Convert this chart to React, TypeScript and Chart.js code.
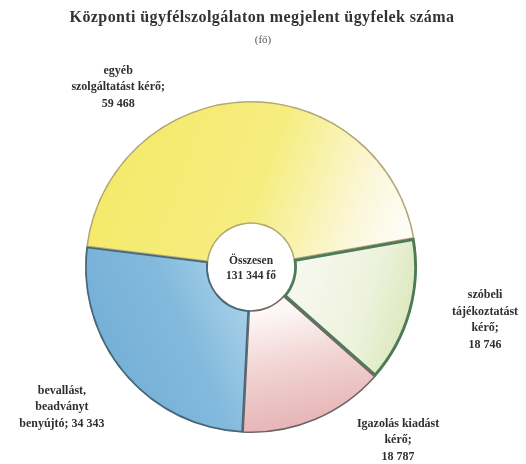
import React, { useEffect, useRef } from "react";
import { Chart, registerables } from "chart.js";

Chart.register(...registerables);

const TITLE = "Központi ügyfélszolgálaton megjelent ügyfelek száma";
const SUBTITLE = "(fő)";
const categories: string[][] = [
  ["egyéb", "szolgáltatást kérő;"],
  ["szóbeli", "tájékoztatást", "kérő;"],
  ["Igazolás kiadást", "kérő;"],
  ["bevallást,", "beadványt", "benyújtó;"],
];
const values: number[] = [59468, 18746, 18787, 34343];
const valueLabels: string[] = ["59 468", "18 746", "18 787", "34 343"];
const centerLines: string[] = ["Összesen", "131 344 fő"];

const FONT = "'Liberation Serif', 'DejaVu Serif', serif";

// gradient stops for each slice (light-to-dark scanned look)
const sliceStops: [number, string][][] = [
  [[0, "#f4ea6c"], [0.45, "#f6ed80"], [0.78, "#fbf7da"], [1, "#ffffff"]],
  [[0, "#f6f8ee"], [0.6, "#edf2dc"], [1, "#dce8bd"]],
  [[0, "#fdf8f6"], [0.45, "#f1d3d2"], [1, "#e5b0b3"]],
  [[0, "#74aed6"], [0.6, "#82b9dc"], [1, "#a6cfe8"]],
];
const borderColors: string[] = ["#b4a676", "#4d7b57", "#6e6464", "#48687a"];
const borderWidths: number[] = [1.2, 2.5, 1.2, 1.5];

export default function App() {
  const ref = useRef<HTMLCanvasElement>(null);
  useEffect(() => {
    if (!ref.current) return;

    const grad = (ctx: any) => {
      const chart = ctx.chart;
      const a = chart.chartArea;
      if (!a) return "#ccc";
      const c = chart.ctx as CanvasRenderingContext2D;
      const cx = (a.left + a.right) / 2;
      const cy = (a.top + a.bottom) / 2;
      const r = Math.min(a.right - a.left, a.bottom - a.top) / 2;
      const i = ctx.dataIndex;
      let g: CanvasGradient;
      if (i === 0) g = c.createLinearGradient(cx - 0.8 * r, cy - 0.6 * r, cx + 0.95 * r, cy + 0.05 * r);
      else if (i === 1) g = c.createLinearGradient(cx + 0.3 * r, cy, cx + r, cy + 0.2 * r);
      else if (i === 2) g = c.createLinearGradient(cx + 0.2 * r, cy + 0.25 * r, cx + 0.35 * r, cy + r);
      else g = c.createLinearGradient(cx - r, cy + 0.5 * r, cx - 0.1 * r, cy + 0.1 * r);
      sliceStops[i].forEach(([p, col]) => g.addColorStop(p, col));
      return g;
    };

    const labelOffsets: [number, number][] = [
      [-0.8, -1.084],
      [1.41, 0.32],
      [0.886, 1.042],
      [-1.139, 0.843],
    ];

    const titlePlugin = {
      id: "scanTitle",
      afterDraw(chart: any) {
        const c = chart.ctx as any;
        c.save();
        c.textAlign = "center";
        c.textBaseline = "middle";
        c.fillStyle = "#333";
        c.font = `bold 16px ${FONT}`;
        if ("letterSpacing" in c) c.letterSpacing = "0.4px";
        c.fillText(TITLE, 262, 18);
        if ("letterSpacing" in c) c.letterSpacing = "0px";
        c.fillStyle = "#555";
        c.font = `11px ${FONT}`;
        c.fillText(SUBTITLE, 263, 40);
        c.restore();
      },
    };

    const labelPlugin = {
      id: "sliceLabels",
      afterDatasetsDraw(chart: any) {
        const meta = chart.getDatasetMeta(0);
        const arc = meta.data[0];
        if (!arc) return;
        const { x, y, outerRadius } = arc.getProps(["x", "y", "outerRadius"], true);
        const c = chart.ctx as CanvasRenderingContext2D;
        c.save();
        c.fillStyle = "#2f2f2f";
        c.textAlign = "center";
        c.textBaseline = "middle";
        c.font = `bold 12px ${FONT}`;
        const lh = 16.5;
        categories.forEach((lines, i) => {
          const all = [...lines];
          if (i === 3) all[all.length - 1] = all[all.length - 1] + " " + valueLabels[i];
          else all.push(valueLabels[i]);
          const ax = x + labelOffsets[i][0] * outerRadius;
          const ay = y + labelOffsets[i][1] * outerRadius;
          const top = ay - ((all.length - 1) * lh) / 2;
          all.forEach((t, k) => c.fillText(t, ax, top + k * lh));
        });
        c.font = `bold 11.5px ${FONT}`;
        c.fillText(centerLines[0], x, y - 6);
        c.fillText(centerLines[1], x, y + 9);
        c.restore();
      },
    };

    const chart = new Chart(ref.current, {
      type: "doughnut",
      data: {
        labels: categories.map((l) => l.join(" ")),
        datasets: [
          {
            data: values,
            backgroundColor: grad as any,
            borderColor: borderColors,
            borderWidth: borderWidths,
            borderAlign: "inner",
          } as any,
        ],
      },
      options: {
        animation: false,
        responsive: false,
        rotation: -83,
        cutout: "26%",
        layout: { padding: { left: 85, right: 109, top: 101, bottom: 31 } },
        plugins: {
          legend: { display: false },
          tooltip: { enabled: false },
          title: { display: false },
        },
      },
      plugins: [labelPlugin, titlePlugin],
    });
    return () => chart.destroy();
  }, []);

  return (
    <div style={{ position: "fixed", left: 0, top: 0, width: 526, height: 464, background: "#fff" }}>
      <canvas ref={ref} width={526} height={464} style={{ width: 526, height: 464 }} />
    </div>
  );
}
